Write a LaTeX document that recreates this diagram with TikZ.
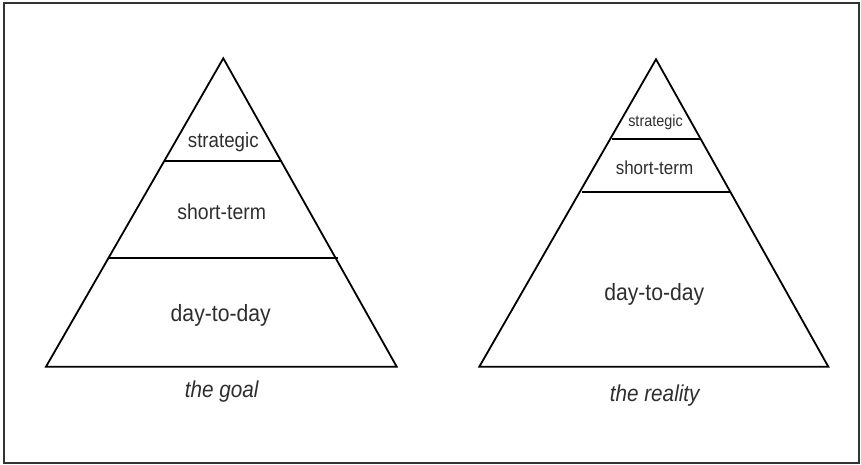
\documentclass[tikz,border=0pt]{standalone}
\usepackage{fontspec}
\setmainfont{Liberation Sans}[FakeStretch=0.9]
\begin{document}
\begin{tikzpicture}[x=1pt,y=-1pt,
  tri/.style={draw=black,line width=1.8pt,line join=miter},
  div/.style={draw=black,line width=1.8pt},
  lbl/.style={inner sep=0pt,anchor=base,text=black!82},
  captxt/.style={inner sep=0pt,anchor=base,text=black!82,font=\itshape\fontsize{23}{26}\selectfont}]
\useasboundingbox (0,0) rectangle (861,465);
\draw[draw=black!80,line width=1.8pt] (4,3) rectangle (859,463);
% left pyramid
\coordinate (la) at (223.3,58.3);
\coordinate (lbase1) at (46,366.7);
\coordinate (lbase2) at (396.7,366.7);
\draw[tri] (la) -- (lbase2) -- (lbase1) -- cycle;
\coordinate (l1a) at (165,160.7);
\coordinate (l1b) at (281.6,160.7);
\coordinate (l2a) at (108.5,258.3);
\coordinate (l2b) at (338.2,258.3);
\draw[div] (l1a) -- (l1b);
\draw[div] (l2a) -- (l2b);
\node[lbl,font=\fontsize{20.8}{24}\selectfont] (ls) at (223.3,148) {strategic};
\node[lbl,font=\fontsize{21.6}{24}\selectfont] (lt) at (221.7,219.5) {short-term};
\node[lbl,font=\fontsize{23.5}{27}\selectfont] (ld) at (220.7,321.5) {day-to-day};
\node[captxt] (lg) at (221.7,397.5) {the goal};
% right pyramid
\coordinate (ra) at (656,59.3);
\coordinate (rbase1) at (479.3,366.7);
\coordinate (rbase2) at (828.3,366.7);
\draw[tri] (ra) -- (rbase2) -- (rbase1) -- cycle;
\coordinate (r1a) at (611.5,139.3);
\coordinate (r1b) at (700.5,139.3);
\coordinate (r2a) at (581.5,191.7);
\coordinate (r2b) at (730.3,191.7);
\draw[div] (r1a) -- (r1b);
\draw[div] (r2a) -- (r2b);
\node[lbl,font=\fontsize{16}{19}\selectfont] (rs) at (655.5,126.7) {strategic};
\node[lbl,font=\fontsize{18.9}{22}\selectfont] (rt) at (654.5,175) {short-term};
\node[lbl,font=\fontsize{23.5}{27}\selectfont] (rd) at (654.3,300.7) {day-to-day};
\node[captxt] (rg) at (654.7,401) {the reality};
\end{tikzpicture}
\end{document}
